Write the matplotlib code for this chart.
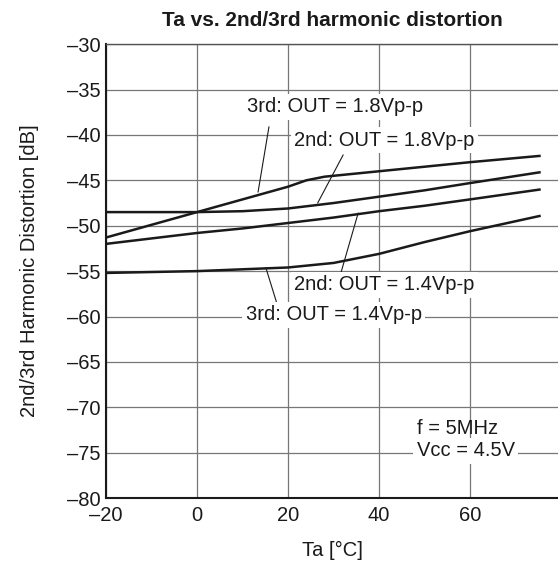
import numpy as np
import matplotlib
matplotlib.use("Agg")
import matplotlib.pyplot as plt

plt.rcParams['font.family'] = ['Liberation Sans', 'DejaVu Sans']

# curve data (Ta in degC, distortion in dB)
ta_3rd_18 = [-20, 0, 10, 20, 24, 28, 40, 60, 75.5]
db_3rd_18 = [-51.3, -48.5, -47.1, -45.7, -45.0, -44.6, -44.0, -43.0, -42.3]

ta_2nd_18 = [-20, 0, 10, 20, 30, 40, 50, 60, 75.5]
db_2nd_18 = [-48.5, -48.5, -48.4, -48.1, -47.5, -46.8, -46.1, -45.3, -44.1]

ta_2nd_14 = [-20, -10, 0, 10, 20, 30, 40, 50, 60, 75.5]
db_2nd_14 = [-52.0, -51.4, -50.8, -50.3, -49.7, -49.1, -48.4, -47.8, -47.1, -46.0]

ta_3rd_14 = [-20, 0, 10, 20, 30, 40, 50, 60, 75.5]
db_3rd_14 = [-55.2, -55.0, -54.8, -54.6, -54.1, -53.1, -51.8, -50.6, -48.9]

# labels: text, label position, pointer tail, pointer tip
labels = ["3rd: OUT = 1.8Vp-p", "2nd: OUT = 1.8Vp-p",
          "2nd: OUT = 1.4Vp-p", "3rd: OUT = 1.4Vp-p"]
label_pos = [(30.4, -36.9), (41.2, -40.6), (41.2, -56.5), (30.0, -59.8)]
pointer_tail = [(15.8, -39.1), (32.1, -42.2), (35.4, -48.6), (17.5, -58.5)]
pointer_tip = [(13.4, -46.3), (26.5, -47.5), (31.6, -55.2), (15.1, -54.6)]

xticks = [-20, 0, 20, 40, 60]
yticks = list(range(-80, -29, 5))

FS = 14.5
ink = '#1a1a1a'

fig = plt.figure(figsize=(5.58, 5.66), dpi=100)
ax = fig.add_axes([0.19, 0.12, 0.81, 0.802])

for t, d in [(ta_3rd_18, db_3rd_18), (ta_2nd_18, db_2nd_18),
             (ta_2nd_14, db_2nd_14), (ta_3rd_14, db_3rd_14)]:
    ax.plot(t, d, color=ink, lw=1.8, zorder=3, solid_capstyle='butt')

for txt, pos, tail, tip in zip(labels, label_pos, pointer_tail, pointer_tip):
    ax.annotate('', xy=tip, xytext=tail,
                arrowprops=dict(arrowstyle='-', color=ink, lw=0.8,
                                shrinkA=0, shrinkB=0), zorder=4)
    ax.text(pos[0], pos[1], txt, ha='center', va='center', fontsize=FS,
            color=ink, zorder=5,
            bbox=dict(facecolor='white', edgecolor='none', pad=2.5))

ax.text(48.3, -72.3, "f = 5MHz", ha='left', va='center', fontsize=FS,
        color=ink, zorder=5)
ax.text(48.3, -74.8, "V\u1d04\u1d04 = 4.5V", ha='left', va='center', fontsize=FS,
        color=ink, zorder=5,
        bbox=dict(facecolor='white', edgecolor='none', pad=2.5))

ax.set_xlim(-20, 79.3)
ax.set_ylim(-80, -30)
ax.set_xticks(xticks)
ax.set_xticklabels(['\u201320', '0', '20', '40', '60'])
ax.set_yticks(yticks)
ax.set_yticklabels(['\u2013%d' % abs(v) for v in yticks])
ax.tick_params(length=0, labelsize=FS, colors=ink)
ax.tick_params(axis='y', pad=4)
ax.tick_params(axis='x', pad=6)
ax.grid(True, color='#777777', lw=0.9)
ax.set_axisbelow(True)

ax.spines['right'].set_visible(False)
ax.spines['top'].set_color('#555555')
ax.spines['top'].set_linewidth(1.0)
ax.spines['left'].set_linewidth(1.5)
ax.spines['bottom'].set_linewidth(1.5)
ax.spines['left'].set_color(ink)
ax.spines['bottom'].set_color(ink)

ax.set_xlabel('Ta [\u00b0C]', fontsize=FS, color=ink, labelpad=11)
ax.set_ylabel('2nd/3rd Harmonic Distortion [dB]', fontsize=FS,
              color=ink, labelpad=20)
ax.set_title('Ta vs. 2nd/3rd harmonic distortion', fontsize=15,
             fontweight='bold', color=ink, pad=13)

fig.savefig('out.png', dpi=100)
